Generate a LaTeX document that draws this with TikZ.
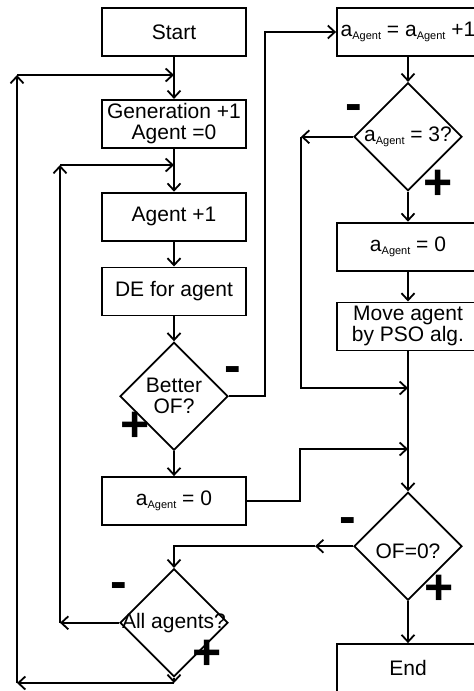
\documentclass[tikz,border=0pt]{standalone}
\usepackage{fontspec}
\setmainfont{Liberation Sans}
\usetikzlibrary{arrows.meta,positioning,shapes.geometric}

\newcommand{\agsub}{a\raisebox{-3pt}{\fontsize{11}{11}\selectfont Agent}}

\begin{document}
\begin{tikzpicture}[
    x=1pt, y=-1pt,
    node distance=25pt,
    every node/.style={font=\fontsize{21}{21}\selectfont, align=center},
    box/.style={draw=black, line width=1.8pt, minimum width=144pt, minimum height=48pt, inner sep=0pt},
    rbox/.style={box, minimum width=142pt},
    decision/.style={diamond, draw=black, line width=1.8pt, minimum width=108pt, minimum height=108pt, inner sep=0pt},
    sign/.style={font=\fontsize{50}{50}\selectfont\bfseries, inner sep=0pt},
    arrow/.style={line width=1.8pt, -{Straight Barb[length=7pt,width=13pt]}}
]
\clip (0,0) rectangle (474,691);

% --- Nodes ---
\node[box] (start) at (174,32) {Start};
\node[box, below=42pt of start] (gen) {Generation +1\\Agent =0};
\node[box, below=43pt of gen] (agent) {Agent +1};
\node[box, below=of agent] (de) {DE for agent};
\node[decision, below=of de, label=center:{Better\\OF?}] (better) {};
\node[box, below=of better] (aleft) {\agsub{} = 0};
\node[decision, below=42pt of aleft, label=center:{All agents?}] (all) {};

\node[rbox] (inc) at (408,32) {\agsub{} = \agsub{} +1};
\node[decision, below=of inc, label=center:{\agsub{} = 3?}] (three) {};
\node[rbox, below=30pt of three] (aright) {\agsub{} = 0};
\node[rbox, below=30pt of aright] (move) {Move agent\\by PSO alg.};
\node[decision, below=140pt of move, label={[yshift=-5pt]center:OF=0?}] (ofz) {};
\node[rbox, below=42pt of ofz] (endb) {End};

% --- Corners ---
\coordinate (outer) at (17,75);
\coordinate (bottom) at (17,683);
\coordinate (inner) at (60,165);
\coordinate (jump) at (265,200);
\coordinate (back) at (301,388);
\coordinate (merge) at (300,449);

% --- Arrows ---
\draw[arrow] (start) -- (gen);
\draw[arrow] (gen) -- (agent);
\draw[arrow] (agent) -- (de);
\draw[arrow] (de) -- (better);
\draw[arrow] (better) -- (aleft);
\draw[arrow] (better.east) -| (jump) |- (inc.west);
\draw[arrow] (inc) -- (three);
\draw[arrow] (three) -- (aright);
\draw[arrow] (aright) -- (move);
\draw[arrow] (move) -- (ofz);
\draw[arrow] (ofz) -- (endb);
\draw[arrow] (three.west) -- (three.west -| back);
\draw[arrow] (three.west -| back) -- (back) -- (move.south |- back);
\draw[arrow] (aleft.east) -| (merge) -- (move.south |- merge);
\draw[arrow] (ofz.west) -- ++(-38pt,0) coordinate (mid);
\draw[arrow] (mid) -| (all.north);
\draw[arrow] (all.west) -- (all.west -| inner);
\draw[arrow] (all.west -| inner) -- (inner);
\draw[arrow] (inner) -- (gen.south |- inner);
\draw[arrow] (all.south) -- (all.south |- bottom);
\draw[arrow] (all.south |- bottom) -- (bottom);
\draw[arrow] (bottom) -- (outer);
\draw[arrow] (outer) -- (start.south |- outer);

% --- Signs ---
\node[sign] (bminus) at (233,375) {-};
\node[sign] (bplus) at (135,427) {+};
\node[sign] (tminus) at (354,113) {-};
\node[sign] (tplus) at (438,185) {+};
\node[sign] (ominus) at (348,526) {-};
\node[sign] (oplus) at (439,590) {+};
\node[sign] (aminus) at (119,591) {-};
\node[sign] (aplus) at (207,655) {+};

\end{tikzpicture}
\end{document}
